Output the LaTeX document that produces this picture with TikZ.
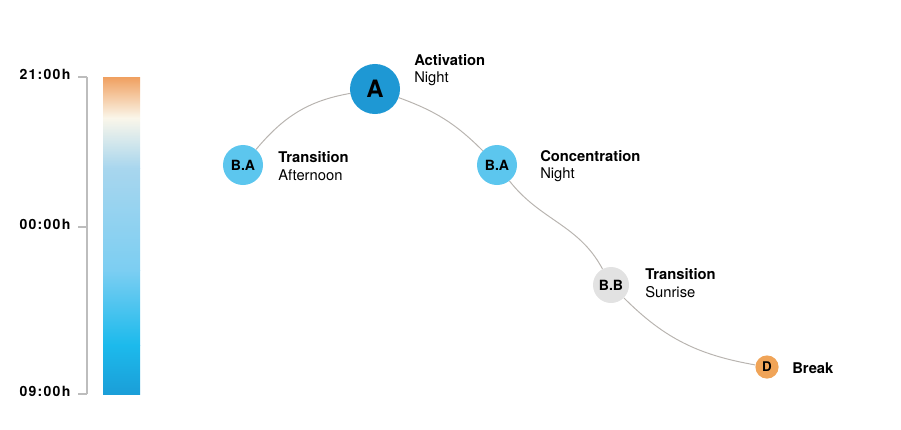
\documentclass[tikz,border=0pt]{standalone}
\usepackage{fontspec}
\setmainfont{TeX Gyre Heros}
\newfontfamily\timefont[LetterSpace=9]{TeX Gyre Heros}
\usepackage{tikz}
\usetikzlibrary{positioning}
\definecolor{phaseA}{HTML}{1E98D4}
\definecolor{phaseB}{HTML}{5CC6EE}
\definecolor{phaseBB}{HTML}{E2E2E2}
\definecolor{phaseD}{HTML}{F0A458}
\definecolor{axisgray}{HTML}{BDBDBD}
\definecolor{curvegray}{HTML}{B8B4B0}
\tikzset{
	phase/.style={circle, inner sep=0pt, font=\bfseries},
	phase label/.style={anchor=west, align=left, inner sep=0pt, font=\fontsize{10.5}{12.5}\selectfont},
	time label/.style={anchor=east, inner sep=0pt, font=\timefont\bfseries\fontsize{10}{11}\selectfont},
	time tick/.style={draw=axisgray, line width=0.8pt},
}
\begin{document}
\begin{tikzpicture}[x=0.025cm, y=-0.025cm]
	\useasboundingbox (0,0) rectangle (901,429);
	% time axis
	\coordinate (top) at (87,77);
	\coordinate (mid) at (87,227);
	\coordinate (bot) at (87,394);
	\draw[time tick] (top) -- (bot);
	\foreach \c/\t in {top/21:00h, mid/00:00h, bot/09:00h}{
		\draw[time tick] (\c) -- ++(-9,0) node[time label, xshift=-5pt, yshift=2pt] {\t};
	}
	% colour bar
	\shade[top color={rgb,255:red,240;green,160;blue,96}, bottom color={rgb,255:red,250;green,246;blue,234}] (103,77) rectangle (140,118);
	\shade[top color={rgb,255:red,250;green,246;blue,234}, bottom color={rgb,255:red,168;green,214;blue,238}] (103,118) rectangle (140,168);
	\shade[top color={rgb,255:red,168;green,214;blue,238}, bottom color={rgb,255:red,124;green,206;blue,242}] (103,168) rectangle (140,270);
	\shade[top color={rgb,255:red,124;green,206;blue,242}, bottom color={rgb,255:red,28;green,186;blue,236}] (103,270) rectangle (140,345);
	\shade[top color={rgb,255:red,28;green,186;blue,236}, bottom color={rgb,255:red,27;green,158;blue,216}] (103,345) rectangle (140,394);
	% phases
	\node[phase, fill=phaseA, minimum size=1.25cm, font=\bfseries\fontsize{17}{17}\selectfont] at (375,89) (act) {A};
	\node[phase, fill=phaseB, minimum size=1.0cm, font=\bfseries\fontsize{10}{10}\selectfont] at (243,165) (trans) {B.A};
	\node[phase, fill=phaseB, minimum size=1.0cm, font=\bfseries\fontsize{10}{10}\selectfont] at (497,165) (conc) {B.A};
	\node[phase, fill=phaseBB, minimum size=0.9cm, font=\bfseries\fontsize{10}{10}\selectfont] at (611,285) (sunrise) {B.B};
	\node[phase, fill=phaseD, minimum size=0.58cm, font=\bfseries\fontsize{9.5}{9.5}\selectfont] at (767,367) (brk) {D};
	% curve
	\draw[curvegray, line width=0.7pt] (trans) to[out=50, in=190] (act);
	\draw[curvegray, line width=0.7pt] (act) to[out=-20, in=135] (conc);
	\draw[curvegray, line width=0.7pt] (conc) to[out=-52, in=118] (sunrise);
	\draw[curvegray, line width=0.7pt] (sunrise) to[out=-45, in=170] (brk);
	% labels
	\node[phase label] at (414,70) (actlbl) {\textbf{Activation}\\Night};
	\node[phase label] at (278,166) (translbl) {\textbf{Transition}\\Afternoon};
	\node[phase label] at (540,166) (conclbl) {\textbf{Concentration}\\Night};
	\node[phase label] at (645,283) (sunlbl) {\textbf{Transition}\\Sunrise};
	\node[phase label] at (792,368) (brklbl) {\textbf{Break}};
\end{tikzpicture}
\end{document}
